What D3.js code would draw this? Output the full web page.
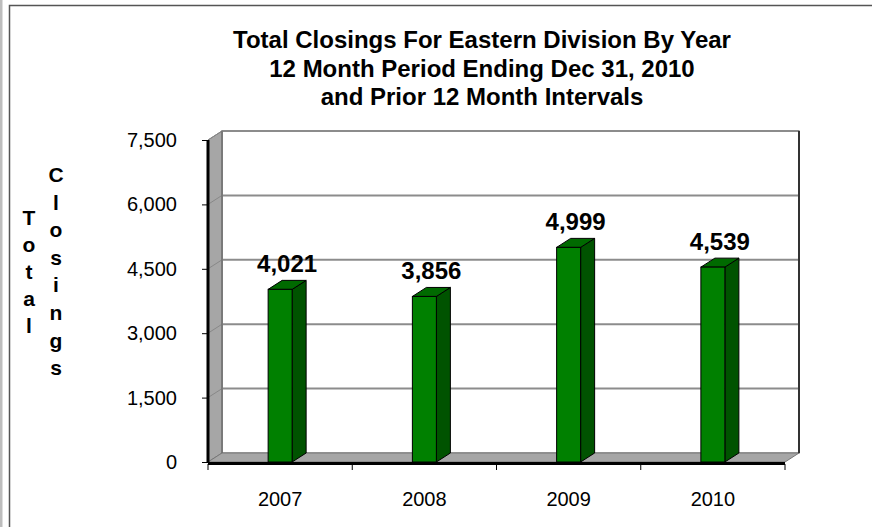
<!DOCTYPE html>
<html>
<head>
<meta charset="utf-8">
<script src="https://cdn.jsdelivr.net/npm/d3@7"></script>
<style>
  body { margin: 0; background: #fff; }
  svg { display: block; font-family: "Liberation Sans", Arial, sans-serif; }
</style>
</head>
<body>
<svg id="chart" width="872" height="527"></svg>
<script>
// chart data
var years = ["2007", "2008", "2009", "2010"];
var closings = [4021, 3856, 4999, 4539];
var tick_values = [0, 1500, 3000, 4500, 6000, 7500];
var title_lines = [
  "Total Closings For Eastern Division By Year",
  "12 Month Period Ending Dec 31, 2010",
  "and Prior 12 Month Intervals"
];
var axis_title_1 = "Total";
var axis_title_2 = "Closings";

var svg = d3.select("#chart");

// plot box (front face) and 3d depth
var plot_left = 208, plot_right = 785, plot_bottom = 462, plot_top = 140;
var dx = 14, dy = -9;

var x = d3.scaleBand().domain(years).range([plot_left, plot_right]);
var y = d3.scaleLinear().domain([0, 7500]).range([plot_bottom, plot_top]);

/********************* frame *********************/
svg.append("rect").attr("x", 0).attr("y", 0).attr("width", 2.5).attr("height", 527).attr("fill", "#bdbdbd");
svg.append("path")
  .attr("d", "M9.5,527 V5.5 H872")
  .attr("fill", "none").attr("stroke", "#555").attr("stroke-width", 1.5);

/********************* title *********************/
svg.append("g").selectAll("text")
  .data(title_lines)
  .enter().append("text")
    .attr("x", 482)
    .attr("y", function(d, i) { return 48 + i * 28.5; })
    .attr("text-anchor", "middle")
    .attr("font-size", "24px")
    .attr("font-weight", "bold")
    .text(function(d) { return d; });

/********************* walls *********************/
// back wall
svg.append("rect")
  .attr("x", plot_left + dx).attr("y", plot_top + dy)
  .attr("width", plot_right - plot_left).attr("height", plot_bottom - plot_top)
  .attr("fill", "#fff").attr("stroke", "#8c8c8c").attr("stroke-width", 1.5);

// left wall
svg.append("path")
  .attr("d", "M" + plot_left + "," + plot_top + " L" + (plot_left + dx) + "," + (plot_top + dy) +
             " L" + (plot_left + dx) + "," + (plot_bottom + dy) + " L" + plot_left + "," + plot_bottom + "Z")
  .attr("fill", "#a6a6a6").attr("stroke", "#777").attr("stroke-width", 1);

// floor
svg.append("path")
  .attr("d", "M" + plot_left + "," + plot_bottom + " L" + (plot_left + dx) + "," + (plot_bottom + dy) +
             " L" + (plot_right + dx) + "," + (plot_bottom + dy) + " L" + plot_right + "," + plot_bottom + "Z")
  .attr("fill", "#a6a6a6").attr("stroke", "#777").attr("stroke-width", 1);

// gridlines on back wall + left wall
var grid = svg.append("g");
grid.selectAll(".gback")
  .data(tick_values.filter(function(d) { return d > 0; }))
  .enter().append("line")
    .attr("x1", plot_left + dx).attr("x2", plot_right + dx)
    .attr("y1", function(d) { return y(d) + dy; })
    .attr("y2", function(d) { return y(d) + dy; })
    .attr("stroke", "#8c8c8c").attr("stroke-width", 2);
grid.selectAll(".gside")
  .data(tick_values.filter(function(d) { return d > 0; }))
  .enter().append("line")
    .attr("x1", plot_left).attr("x2", plot_left + dx)
    .attr("y1", function(d) { return y(d); })
    .attr("y2", function(d) { return y(d) + dy; })
    .attr("stroke", "#888").attr("stroke-width", 1);

// back wall edges
svg.append("line")
  .attr("x1", plot_right + dx).attr("x2", plot_right + dx)
  .attr("y1", plot_top + dy).attr("y2", plot_bottom + dy)
  .attr("stroke", "#333").attr("stroke-width", 2);
svg.append("line")
  .attr("x1", plot_left + dx).attr("x2", plot_left + dx)
  .attr("y1", plot_top + dy).attr("y2", plot_bottom + dy)
  .attr("stroke", "#666").attr("stroke-width", 1);

/********************* bars *********************/
var bar_w = 24;
var bars = svg.append("g").selectAll("g")
  .data(closings)
  .enter().append("g");

function bx(d, i) { return x(years[i]) + x.bandwidth() / 2 - bar_w / 2; }

// side
bars.append("path")
  .attr("d", function(d, i) {
    var x0 = bx(d, i) + bar_w, y0 = y(d);
    return "M" + x0 + "," + y0 + " L" + (x0 + dx) + "," + (y0 + dy) +
           " L" + (x0 + dx) + "," + (plot_bottom + dy) + " L" + x0 + "," + plot_bottom + "Z";
  })
  .attr("fill", "#005300").attr("stroke", "#000").attr("stroke-width", 1);
// top
bars.append("path")
  .attr("d", function(d, i) {
    var x0 = bx(d, i), y0 = y(d);
    return "M" + x0 + "," + y0 + " L" + (x0 + dx) + "," + (y0 + dy) +
           " L" + (x0 + bar_w + dx) + "," + (y0 + dy) + " L" + (x0 + bar_w) + "," + y0 + "Z";
  })
  .attr("fill", "#006a00").attr("stroke", "#000").attr("stroke-width", 1);
// front
bars.append("rect")
  .attr("x", bx)
  .attr("y", function(d) { return y(d); })
  .attr("width", bar_w)
  .attr("height", function(d) { return plot_bottom - y(d); })
  .attr("fill", "#008000").attr("stroke", "#000").attr("stroke-width", 1);

// value labels
bars.append("text")
  .attr("x", function(d, i) { return bx(d, i) + bar_w / 2 + dx / 2; })
  .attr("y", function(d) { return y(d) + dy - 8; })
  .attr("text-anchor", "middle")
  .attr("font-size", "24px")
  .attr("font-weight", "bold")
  .text(d3.format(","));

/********************* axes *********************/
// front edges in black
svg.append("line")
  .attr("x1", plot_left).attr("x2", plot_left).attr("y1", plot_top).attr("y2", plot_bottom + 1)
  .attr("stroke", "#000").attr("stroke-width", 3);
svg.append("line")
  .attr("x1", plot_left).attr("x2", plot_right).attr("y1", plot_bottom + 1.5).attr("y2", plot_bottom + 1.5)
  .attr("stroke", "#000").attr("stroke-width", 3);

var y_axis = svg.append("g")
  .attr("transform", "translate(" + (plot_left - 1) + ",0)")
  .call(d3.axisLeft(y).tickValues(tick_values).tickFormat(d3.format(",")).tickSize(5).tickPadding(25));
y_axis.select(".domain").remove();
y_axis.selectAll("text").attr("font-size", "20px").attr("font-family", "Liberation Sans, Arial, sans-serif").attr("fill", "#000");
y_axis.selectAll("line").attr("stroke", "#000");

var x_axis = svg.append("g")
  .attr("transform", "translate(0," + plot_bottom + ")")
  .call(d3.axisBottom(x).tickSize(0).tickPadding(30));
x_axis.select(".domain").remove();
x_axis.selectAll("text").attr("font-size", "20px").attr("font-family", "Liberation Sans, Arial, sans-serif").attr("fill", "#000");

// category boundary ticks
svg.append("g").selectAll("line")
  .data(d3.range(years.length + 1))
  .enter().append("line")
    .attr("x1", function(i) { return plot_left + i * x.step(); })
    .attr("x2", function(i) { return plot_left + i * x.step(); })
    .attr("y1", plot_bottom + 2).attr("y2", plot_bottom + 8)
    .attr("stroke", "#000").attr("stroke-width", 1);

/********************* axis title *********************/
var at = svg.append("g").attr("font-size", "21px").attr("font-weight", "bold").attr("text-anchor", "middle");
at.selectAll(".t1")
  .data(axis_title_1.split(""))
  .enter().append("text")
    .attr("x", 29)
    .attr("y", function(d, i) { return 225 + i * 27; })
    .text(function(d) { return d; });
at.selectAll(".t2")
  .data(axis_title_2.split(""))
  .enter().append("text")
    .attr("x", 56)
    .attr("y", function(d, i) { return 182 + i * 27.6; })
    .text(function(d) { return d; });
</script>
</body>
</html>
